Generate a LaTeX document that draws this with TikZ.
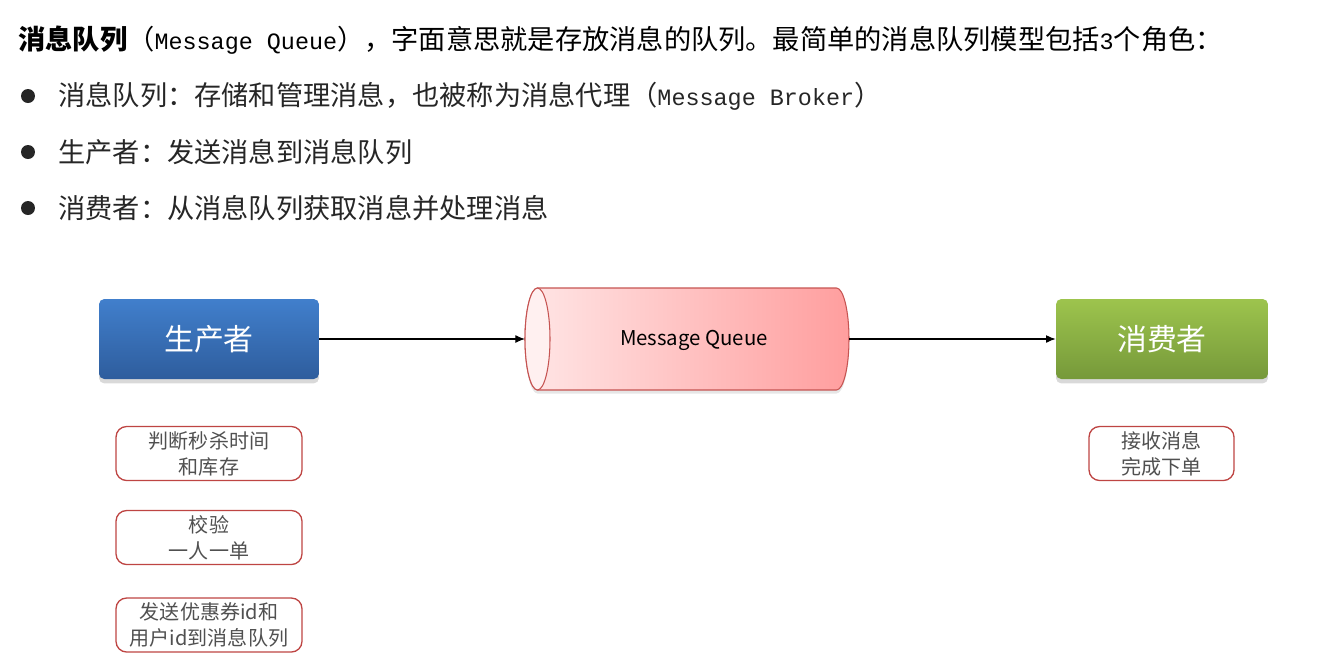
\documentclass[tikz,border=0pt]{standalone}
\usepackage{fontspec}
\setmainfont{Noto Sans CJK SC}
\newfontfamily\monofont{Liberation Mono}[Scale=0.86]
\usetikzlibrary{arrows.meta,shadows}

\definecolor{prodtop}{HTML}{417FCC}
\definecolor{prodbot}{HTML}{2E5D9D}
\definecolor{constop}{HTML}{9DC44D}
\definecolor{consbot}{HTML}{76993A}
\definecolor{mqleft}{HTML}{FFE6E6}
\definecolor{mqright}{HTML}{FF9E9E}
\definecolor{mqend}{HTML}{FFF0F0}
\definecolor{mqborder}{HTML}{C65452}
\definecolor{taskred}{HTML}{BE4543}
\definecolor{taskgray}{HTML}{505050}
\definecolor{inktext}{HTML}{262626}

\tikzset{
  role/.style={rounded corners=3pt, minimum height=1.6cm, inner sep=0pt,
    text=white, font=\fontsize{17}{20}\selectfont,
    drop shadow={shadow xshift=0pt, shadow yshift=-2.5pt, opacity=0.3}},
  task/.style={draw=taskred, line width=0.75pt, rounded corners=6pt, fill=white,
    minimum width=3.72cm, minimum height=1.08cm, inner sep=0pt, align=center,
    text=taskgray, font=\fontsize{11.4}{14.7}\selectfont},
  line/.style={anchor=west, inner sep=0pt, text=inktext,
    font=\fontsize{15.5}{18}\selectfont},
  flow/.style={line width=0.6pt, -{Latex[length=5.5pt,width=4.5pt]}}
}

\begin{document}
\begin{tikzpicture}[x=0.02cm, y=-0.02cm]
\useasboundingbox (0,0) rectangle (1343,667);

  % Text above the diagram
  \node[line, text=black] (title) at (18,40)
    {{\bfseries 消息队列}（{\monofont Message Queue}），字面意思就是存放消息的队列。最简单的消息队列模型包括{\monofont 3}个角色：};
  \node[line] (queueline) at (58,96)
    {消息队列：存储和管理消息，也被称为消息代理（{\monofont Message Broker}）};
  \node[line] (prodline) at (58,152) {生产者：发送消息到消息队列};
  \node[line] (consline) at (58,208) {消费者：从消息队列获取消息并处理消息};
  % Draw the bullets
  \foreach \y in {96, 152, 208} {
    \fill[inktext] (28,\y) circle (0.14cm);
  }

  % Draw the queue
  \draw[mqborder, line width=0.6pt, left color=mqleft, right color=mqright,
    drop shadow={shadow xshift=0pt, shadow yshift=-2pt, opacity=0.2}]
    (537.5,288) -- (836.5,288)
    arc[start angle=90, end angle=-90, x radius=0.25cm, y radius=1.02cm]
    -- (537.5,390)
    arc[start angle=270, end angle=90, x radius=0.25cm, y radius=1.02cm] -- cycle;
  \draw[mqborder, line width=0.6pt, fill=mqend] (537.5,339) ellipse [x radius=0.25cm, y radius=1.02cm];
  \coordinate (mqin) at (525,339);
  \coordinate (mqout) at (849,339);
  \node[font=\fontsize{11.6}{14}\selectfont, text=black] (mq) at (694,340) {Message Queue};

  % Producer and consumer
  \node[role, minimum width=4.4cm, top color=prodtop, bottom color=prodbot] (prod) at (209,339) {生产者};
  \node[role, minimum width=4.24cm, top color=constop, bottom color=consbot] (cons) at (1162,339) {消费者};

  % Draw the arrows
  \draw[flow] (prod) -- (mqin);
  \draw[flow] (mqout) -- (cons);

  % Steps of each side
  \node[task] (check) at (209,453.5) {判断秒杀时间\\和库存};
  \node[task] (once) at (209,537.5) {校验\\一人一单};
  \node[task] (send) at (209,625) {发送优惠券id和\\用户id到消息队列};
  \node[task, minimum width=2.9cm] (order) at (1161.5,453.5) {接收消息\\完成下单};
\end{tikzpicture}
\end{document}
